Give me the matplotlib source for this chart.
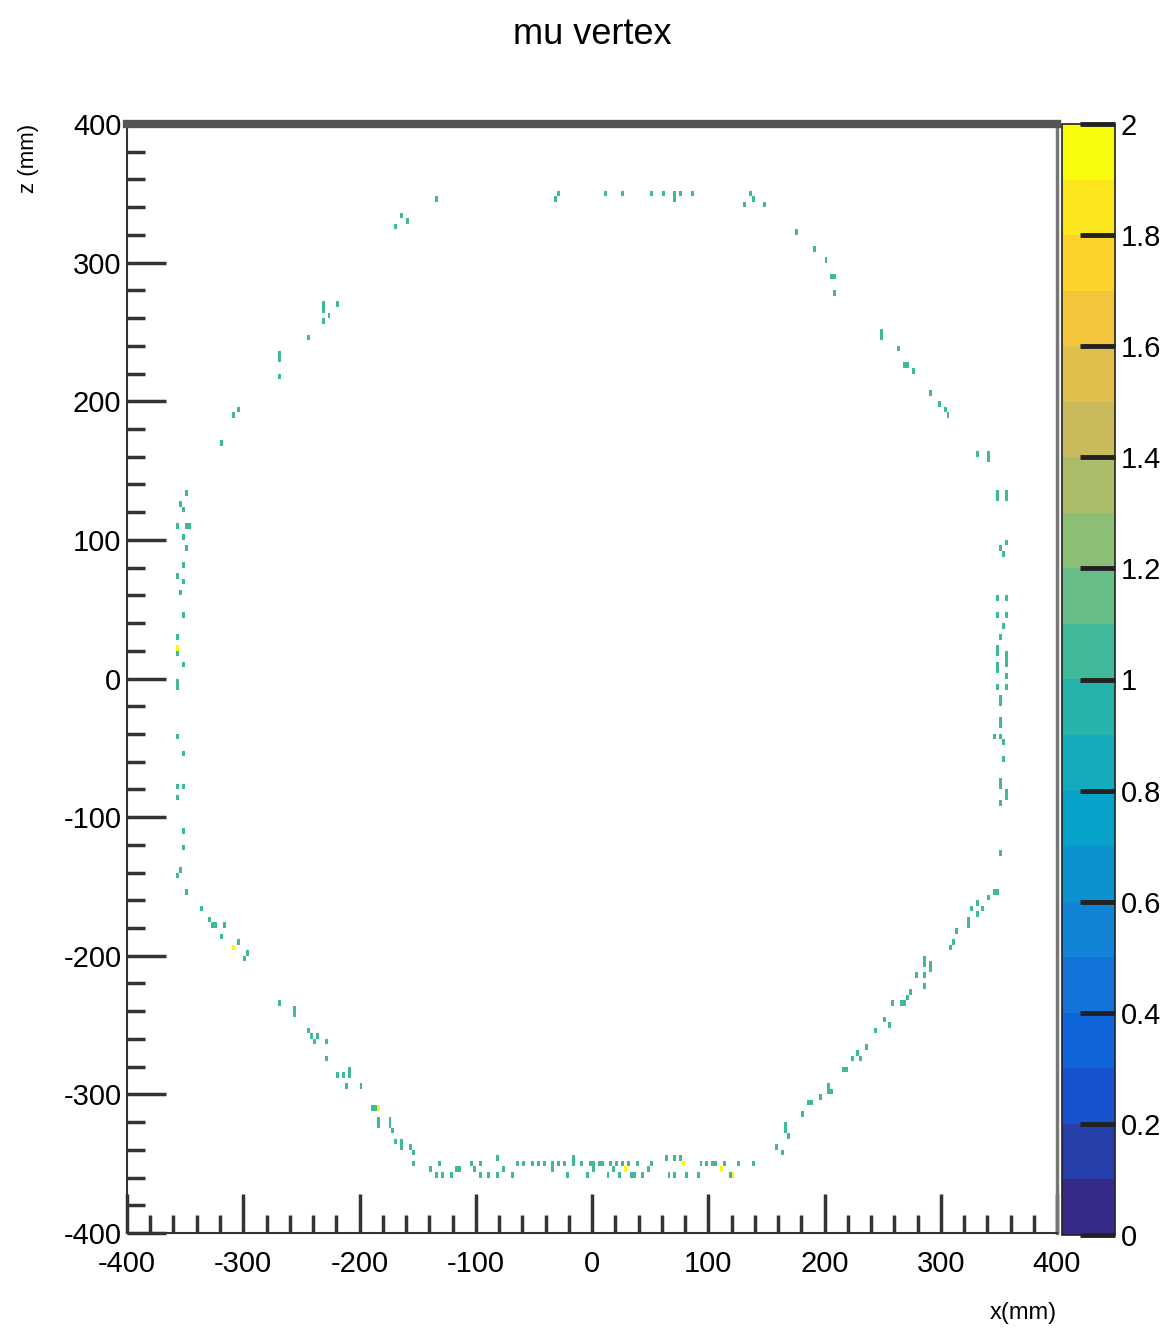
import numpy as np
import matplotlib
matplotlib.use('Agg')
import matplotlib.pyplot as plt
from matplotlib.colors import LinearSegmentedColormap, ListedColormap, BoundaryNorm
from matplotlib.ticker import MultipleLocator, FuncFormatter
from matplotlib import font_manager

names = {f.name for f in font_manager.fontManager.ttflist}
fam = [n for n in ['Liberation Sans Narrow', 'DejaVu Sans Condensed', 'Liberation Sans', 'DejaVu Sans'] if n in names]
plt.rcParams['font.family'] = fam

# ---- data: vertex cells (x mm, z mm), content 1 ----
top_seg = [(-133, 344), (-30, 349), (-32, 345), (11, 350), (25, 350), (51, 350), (62, 350),
           (70, 351), (71, 347), (76, 350), (85, 350), (131, 343), (136, 350), (138, 346), (149, 340)]
upper_right = [(175, 321), (190, 308), (200, 300), (205, 290), (208, 290), (209, 279), (249, 249),
               (248, 245), (263, 236), (269, 225), (272, 225), (276, 221), (292, 207), (298, 199),
               (303, 192), (307, 189), (330, 163), (341, 156), (341, 160), (349, 131), (356, 131)]
upper_left = [(-168, 326), (-163, 333), (-158, 329), (-218, 268), (-232, 267), (-232, 271),
              (-227, 261), (-232, 257), (-243, 246), (-268, 231), (-268, 235), (-268, 218),
              (-305, 192), (-310, 189), (-319, 171)]
left_seg = [(-348, 132), (-353, 124), (-352, 120), (-356, 109), (-350, 109), (-347, 109),
            (-351, 102), (-348, 92), (-351, 80), (-356, 73), (-351, 70), (-354, 62), (-351, 44),
            (-356, 31), (-356, 19), (-351, 8), (-356, -7), (-356, -3), (-356, -41), (-351, -53),
            (-356, -77), (-351, -77), (-356, -85), (-351, -110), (-351, -121), (-354, -140),
            (-356, -144), (-348, -156)]
lower_left = [(-337, -167), (-330, -174), (-326, -178), (-323, -178), (-317, -178), (-318, -186),
              (-305, -189), (-300, -203), (-296, -200), (-268, -236), (-257, -241), (-257, -237),
              (-245, -254), (-241, -257), (-237, -257), (-238, -264), (-230, -264), (-230, -275),
              (-218, -285), (-215, -285), (-209, -288), (-209, -284), (-211, -293), (-200, -293),
              (-189, -311), (-186, -311), (-183, -321), (-183, -317), (-175, -324), (-175, -320),
              (-171, -326), (-169, -333), (-165, -333), (-163, -340), (-157, -340), (-155, -344),
              (-153, -350)]
bottom_seg = [(-138, -353), (-135, -357), (-131, -350), (-129, -357), (-122, -357), (-116, -356),
              (-113, -356), (-103, -352), (-102, -356), (-96, -351), (-96, -357), (-89, -357),
              (-82, -347), (-82, -357), (-77, -355), (-70, -357), (-64, -350), (-59, -349),
              (-52, -350), (-47, -351), (-42, -350), (-34, -349), (-34, -356), (-29, -352),
              (-23, -349), (-21, -357), (-17, -352), (-16, -347), (-8, -349), (-4, -357),
              (-2, -349), (1, -349), (1, -355), (5, -349), (9, -351), (13, -357), (17, -349),
              (18, -355), (21, -352), (24, -357), (27, -350), (31, -351), (33, -357), (36, -357),
              (39, -352), (44, -357), (48, -355), (52, -350), (64, -347), (65, -357), (70, -347),
              (71, -357), (76, -347), (82, -357), (90, -357), (93, -350), (99, -350), (103, -352),
              (107, -349), (113, -350), (119, -357), (127, -350), (138, -350)]
lower_right = [(158, -337), (163, -344), (165, -327), (165, -323), (169, -329), (181, -315),
               (185, -308), (188, -308), (195, -303), (203, -298), (203, -294), (206, -299),
               (216, -282), (219, -282), (224, -275), (228, -269), (230, -274), (237, -267),
               (243, -254), (250, -246), (255, -250), (258, -236), (265, -236), (268, -236),
               (272, -232), (273, -226), (278, -214), (285, -222), (285, -207), (285, -203),
               (287, -214), (292, -209), (292, -205), (308, -196), (311, -190), (314, -183),
               (323, -180), (323, -176), (327, -167), (331, -163), (331, -171), (335, -167),
               (341, -160), (345, -156), (348, -154)]
right_seg = [(348, 132), (356, 132), (351, 95), (356, 98), (354, 88), (348, 59), (356, 59),
             (348, 44), (356, 44), (354, 37), (351, 30), (349, 23), (349, 19), (356, 18),
             (356, 14), (348, 11), (348, 7), (356, 8), (356, 1), (348, -6), (356, -6),
             (350, -14), (350, -18), (351, -32), (351, -36), (347, -43), (350, -43), (354, -47),
             (354, -60), (352, -75), (352, -79), (356, -83), (356, -87), (351, -90), (351, -128)]
# cells with content 2
twos = [(-356, 23), (-310, -196), (-183, -311), (28, -355), (78, -350), (110, -355), (121, -357)]

x_edges = np.arange(-400, 400.01, 2.5)
z_edges = np.arange(-400, 400.01, 4.0)

ones = np.array(top_seg + upper_right + upper_left + left_seg + lower_left + bottom_seg
                + lower_right + right_seg, dtype=float)
tw = np.array(twos, dtype=float)
H1, _, _ = np.histogram2d(ones[:, 0], ones[:, 1], bins=[x_edges, z_edges])
H2, _, _ = np.histogram2d(tw[:, 0], tw[:, 1], bins=[x_edges, z_edges])
H = np.maximum((H1 > 0) * 1.0, (H2 > 0) * 2.0)
H = np.ma.masked_equal(H, 0)

# ROOT kBird palette
r = [0.2082, 0.0592, 0.0780, 0.0232, 0.1802, 0.5301, 0.8186, 0.9956, 0.9764]
g = [0.1664, 0.3599, 0.5041, 0.6419, 0.7178, 0.7492, 0.7328, 0.7862, 0.9832]
b = [0.5293, 0.8684, 0.8385, 0.7914, 0.6425, 0.4662, 0.3499, 0.1968, 0.0539]
bird = LinearSegmentedColormap.from_list('bird', list(zip(r, g, b)))
cmap = ListedColormap(bird(np.linspace(0, 1, 20)))
cmap.set_over(bird(1.0))
levels = np.linspace(0, 2, 21)
norm = BoundaryNorm(levels, 20)

W, Hpx = 1173, 1331
fig = plt.figure(figsize=(W / 100, Hpx / 100), dpi=100)
ax = fig.add_axes([127 / W, 1 - 1233 / Hpx, 930 / W, 1109 / Hpx])
cax = fig.add_axes([1062 / W, 1 - 1235 / Hpx, 53 / W, 1111 / Hpx])

mesh = ax.pcolormesh(x_edges, z_edges, H.T, cmap=cmap, norm=norm)
ax.set_xlim(-400, 400)
ax.set_ylim(-400, 400)

dark = '#333333'
for s in ['left', 'bottom', 'right']:
    ax.spines[s].set_linewidth(1.5)
    ax.spines[s].set_color(dark)
ax.spines['right'].set_color('#777777')
ax.spines['right'].set_linewidth(2.5)
ax.spines['top'].set_linewidth(6)
ax.spines['top'].set_color('#555555')

ax.xaxis.set_major_locator(MultipleLocator(100))
ax.xaxis.set_minor_locator(MultipleLocator(20))
ax.yaxis.set_major_locator(MultipleLocator(100))
ax.yaxis.set_minor_locator(MultipleLocator(20))
ax.tick_params(which='major', direction='in', length=28, width=2.5, color=dark,
               labelsize=21, top=False, right=False)
ax.tick_params(which='minor', direction='in', length=13, width=2.5, color=dark,
               top=False, right=False)
ax.tick_params(axis='y', pad=4)
ax.tick_params(axis='x', pad=12)
fmt = FuncFormatter(lambda v, p: '%d' % v)
ax.xaxis.set_major_formatter(fmt)
ax.yaxis.set_major_formatter(fmt)

ax.set_xlabel('x(mm)', fontsize=17, loc='right')
ax.xaxis.set_label_coords(1.0, -0.062)
ax.set_ylabel('z (mm)', fontsize=16, loc='top')
ax.yaxis.set_label_coords(-0.095, 1.0)

cb = fig.colorbar(mesh, cax=cax, ticks=np.arange(0, 2.01, 0.2))
cb.minorticks_off()
cb.outline.set_linewidth(1.2)
cb.outline.set_edgecolor('#222222')
cax.tick_params(direction='in', length=25, width=3.5, color='#222222', labelsize=21, pad=4)
cax.yaxis.set_major_formatter(FuncFormatter(lambda v, p: '%g' % round(v, 1)))

fig.text(592 / W, 1 - 35 / Hpx, 'mu vertex', ha='center', va='center', fontsize=26)

fig.savefig('out.png', dpi=100, facecolor='white')
